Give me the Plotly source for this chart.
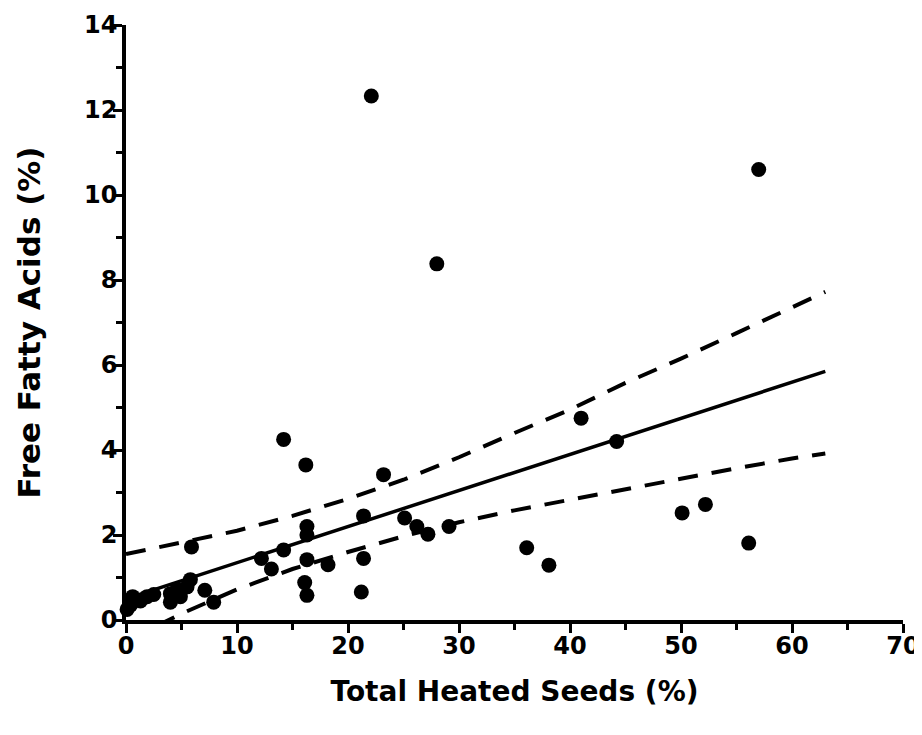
import plotly.graph_objects as go

# Data points
seeds_x = [22.1, 57.0, 28.0, 14.2, 16.2, 23.2, 41.0, 44.2, 50.1, 52.2, 56.1, 36.1, 38.1,
           29.1, 27.2, 26.2, 25.1, 21.4, 16.3, 16.3, 21.4, 18.2, 16.3, 16.1, 16.3, 21.2,
           14.2, 13.1, 12.2, 5.9, 7.1, 7.9, 5.8, 5.5, 4.9, 4.6, 4.0, 4.0, 1.9, 1.3, 0.6,
           0.4, 0.1, 2.5]
ffa_y = [12.33, 10.6, 8.38, 4.25, 3.65, 3.42, 4.75, 4.2, 2.52, 2.72, 1.81, 1.7, 1.29,
         2.2, 2.02, 2.2, 2.4, 2.45, 2.2, 2.0, 1.45, 1.3, 1.42, 0.88, 0.58, 0.66,
         1.65, 1.2, 1.45, 1.72, 0.7, 0.42, 0.95, 0.78, 0.55, 0.72, 0.62, 0.42, 0.55,
         0.45, 0.55, 0.35, 0.25, 0.6]

# Regression line
fit_x = [0, 63]
fit_y = [0.5, 5.85]

# Confidence bands
band_x = [0, 5, 10, 15, 20, 25, 30, 35, 40, 45, 50, 55, 60, 63]
upper_y = [1.55, 1.83, 2.1, 2.45, 2.85, 3.3, 3.83, 4.4, 4.95, 5.58, 6.15, 6.75, 7.37, 7.72]
lower_y = [-0.5, 0.15, 0.72, 1.2, 1.6, 1.97, 2.3, 2.58, 2.83, 3.08, 3.33, 3.57, 3.8, 3.92]

x_ticks = [0, 10, 20, 30, 40, 50, 60, 70]
y_ticks = [0, 2, 4, 6, 8, 10, 12, 14]

FONT = "DejaVu Sans"

fig = go.Figure()
fig.add_trace(go.Scatter(x=band_x, y=upper_y, mode="lines",
                         line=dict(color="black", width=4, dash="20px,14px"),
                         hoverinfo="skip"))
fig.add_trace(go.Scatter(x=band_x, y=lower_y, mode="lines",
                         line=dict(color="black", width=4, dash="20px,14px"),
                         hoverinfo="skip"))
fig.add_trace(go.Scatter(x=fit_x, y=fit_y, mode="lines",
                         line=dict(color="black", width=3.5)))
fig.add_trace(go.Scatter(x=seeds_x, y=ffa_y, mode="markers",
                         marker=dict(color="black", size=15),
                         cliponaxis=False))

fig.update_layout(
    width=922, height=735,
    margin=dict(l=118, r=27, t=17, b=123),
    plot_bgcolor="white", paper_bgcolor="white",
    showlegend=False,
    font=dict(family=FONT, color="black"),
)
fig.update_xaxes(
    range=[0, 70], tickvals=x_ticks, ticktext=[str(v) for v in x_ticks],
    showgrid=False, zeroline=False, automargin=False,
    showline=True, linecolor="black", linewidth=3.5,
    ticks="outside", ticklen=9, tickwidth=3, tickcolor="black",
    ticklabelstandoff=-8,
    minor=dict(dtick=5, tick0=0, ticks="outside", ticklen=6, tickwidth=2.5, tickcolor="black"),
    tickfont=dict(family=FONT, size=24, weight="bold"),
    title=dict(text="Total Heated Seeds (%)", font=dict(family=FONT, size=28, weight="bold"),
               standoff=24),
)
fig.update_yaxes(
    range=[0, 14], tickvals=y_ticks, ticktext=[str(v) for v in y_ticks],
    showgrid=False, zeroline=False, automargin=False,
    showline=True, linecolor="black", linewidth=3.5,
    ticks="outside", ticklen=9, tickwidth=3, tickcolor="black",
    ticklabelstandoff=-9,
    minor=dict(dtick=1, tick0=0, ticks="outside", ticklen=6, tickwidth=2.5, tickcolor="black"),
    tickfont=dict(family=FONT, size=24, weight="bold"),
    title=dict(text="Free Fatty Acids (%)", font=dict(family=FONT, size=31, weight="bold"),
               standoff=35),
)

fig.write_html("out.html")
